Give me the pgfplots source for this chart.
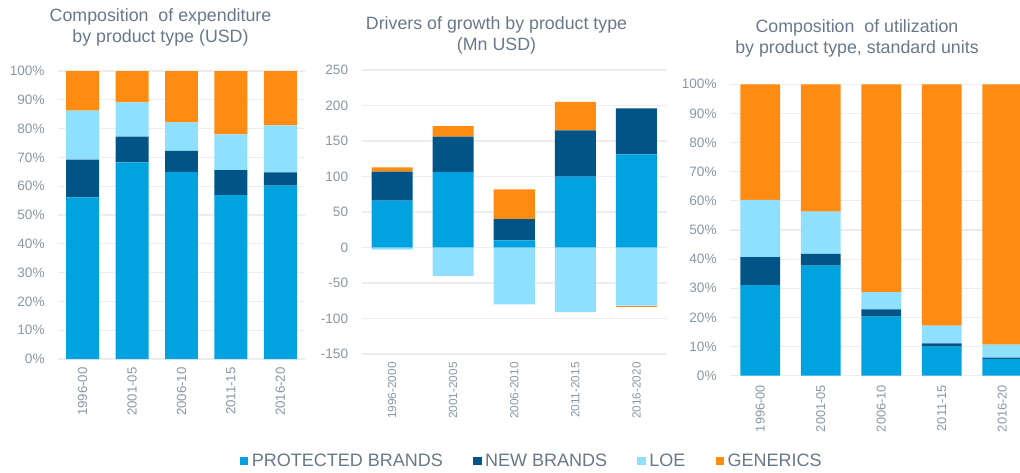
\documentclass[border=0pt]{standalone}
\usepackage{fontspec}
\setmainfont{Liberation Sans}
\usepackage{pgfplots}
\pgfplotsset{compat=1.18}
\definecolor{cProt}{RGB}{0,162,223}
\definecolor{cNew}{RGB}{0,84,134}
\definecolor{cLoe}{RGB}{143,224,255}
\definecolor{cGen}{RGB}{255,139,18}
\definecolor{cGrid}{RGB}{234,238,241}
\definecolor{cTick}{RGB}{137,151,165}
\definecolor{cTitle}{RGB}{104,120,136}

\pgfplotsset{
 every axis title shift=0pt,
 base/.style={
  scale only axis,
  ybar stacked,
  xmin=-0.5, xmax=4.5,
  xtick={0,...,4},
  axis line style={draw=none},
  major tick length=0pt,
  ymajorgrids, major grid style={cGrid, line width=0.6pt},
  /pgf/number format/assume math mode=true,
  yticklabel style={font=\fontsize{6.8}{8}\selectfont, text=cTick, anchor=east, inner ysep=0pt, inner xsep=6.5pt},
  xticklabel style={font=\fontsize{6.6}{8}\selectfont, text=cTick, rotate=90, anchor=east, inner xsep=4pt, inner ysep=0pt},
  title style={font=\fontsize{8.9}{10.5}\selectfont, text=cTitle, align=center},
  every axis plot/.append style={draw=none},
 },
}

\begin{document}
\begin{tikzpicture}
\useasboundingbox (0,0) rectangle (510pt,236pt);
\clip (0,0) rectangle (510pt,236pt);

% ---------- Chart 1 ----------
\begin{axis}[base,
  at={(29pt,56.5pt)}, anchor=south west,
  width=123.5pt, height=144pt,
  ymin=0, ymax=100, ytick={0,10,...,100},
  yticklabel={\pgfmathprintnumber{\tick}\%},
  bar width=0.667,
  xticklabels={1996-00,2001-05,2006-10,2011-15,2016-20},
  title={Composition\ \ of expenditure\\by product type (USD)},
  title style={at={(0.415,1.151)}, anchor=center},
  legend columns=4,
  legend style={at={(1.921,-0.3576)}, anchor=center, draw=none, fill=none,
    font=\fontsize{9}{11}\selectfont, text=cTitle,
    /tikz/every even column/.append style={column sep=13.5pt},
    nodes={inner xsep=1.7pt}},
  legend image code/.code={\path[#1] (0pt,-1.6pt) rectangle (4.2pt,2.6pt);},
]
\addplot[fill=cProt] coordinates {(0,56.1) (1,68.3) (2,65.0) (3,56.9) (4,60.2)};
\addlegendentry{PROTECTED BRANDS}
\addplot[fill=cNew] coordinates {(0,13.1) (1,8.9) (2,7.3) (3,8.7) (4,4.6)};
\addlegendentry{NEW BRANDS}
\addplot[fill=cLoe] coordinates {(0,17.0) (1,11.9) (2,9.9) (3,12.4) (4,16.3)};
\addlegendentry{LOE}
\addplot[fill=cGen] coordinates {(0,13.8) (1,10.9) (2,17.8) (3,22.0) (4,18.9)};
\addlegendentry{GENERICS}
\end{axis}

% ---------- Chart 2 (positive parts) ----------
\begin{axis}[base,
  at={(180.75pt,59pt)}, anchor=south west,
  width=152.75pt, height=142pt,
  ymin=-150, ymax=250, ytick={-150,-100,...,250},
  bar width=0.672,
  xticklabel style={font=\fontsize{5.9}{7}\selectfont},
  xticklabels={1996-2000,2001-2005,2006-2010,2011-2015,2016-2020},
  title={Drivers of growth by product type\\(Mn USD)},
  title style={at={(0.442,1.122)}, anchor=center},
]
\addplot[fill=cProt] coordinates {(0,66) (1,106) (2,10) (3,100) (4,131)};
\addplot[fill=cNew] coordinates {(0,41) (1,50) (2,30) (3,65) (4,65)};
\addplot[fill=cGen] coordinates {(0,6) (1,15) (2,42) (3,40) (4,0)};
\end{axis}
% ---------- Chart 2 (negative parts) ----------
\begin{axis}[base, hide axis,
  at={(180.75pt,59pt)}, anchor=south west,
  width=152.75pt, height=142pt,
  ymin=-150, ymax=250,
  bar width=0.672,
]
\addplot[fill=cLoe] coordinates {(0,-3) (1,-40) (2,-80) (3,-91) (4,-82)};
\addplot[fill=cGen] coordinates {(0,0) (1,0) (2,0) (3,0) (4,-1.5)};
\end{axis}

% ---------- Chart 3 ----------
\begin{axis}[base,
  at={(365pt,48.15pt)}, anchor=south west,
  width=151.25pt, height=145.7pt,
  ymin=0, ymax=100, ytick={0,10,...,100},
  yticklabel={\pgfmathprintnumber{\tick}\%},
  bar width=0.66,
  xticklabel style={font=\fontsize{6.4}{8}\selectfont, inner xsep=4.5pt},
  xticklabels={1996-00,2001-05,2006-10,2011-15,2016-20},
  title={Composition\ \ of utilization\\by product type, standard units},
  title style={at={(0.4198,1.157)}, anchor=center},
]
\addplot[fill=cProt] coordinates {(0,31.1) (1,37.8) (2,20.3) (3,10.0) (4,5.8)};
\addplot[fill=cNew] coordinates {(0,9.6) (1,4.0) (2,2.5) (3,1.1) (4,0.4)};
\addplot[fill=cLoe] coordinates {(0,19.6) (1,14.5) (2,5.9) (3,6.1) (4,4.5)};
\addplot[fill=cGen] coordinates {(0,39.7) (1,43.7) (2,71.3) (3,82.8) (4,89.3)};
\end{axis}
\end{tikzpicture}
\end{document}
